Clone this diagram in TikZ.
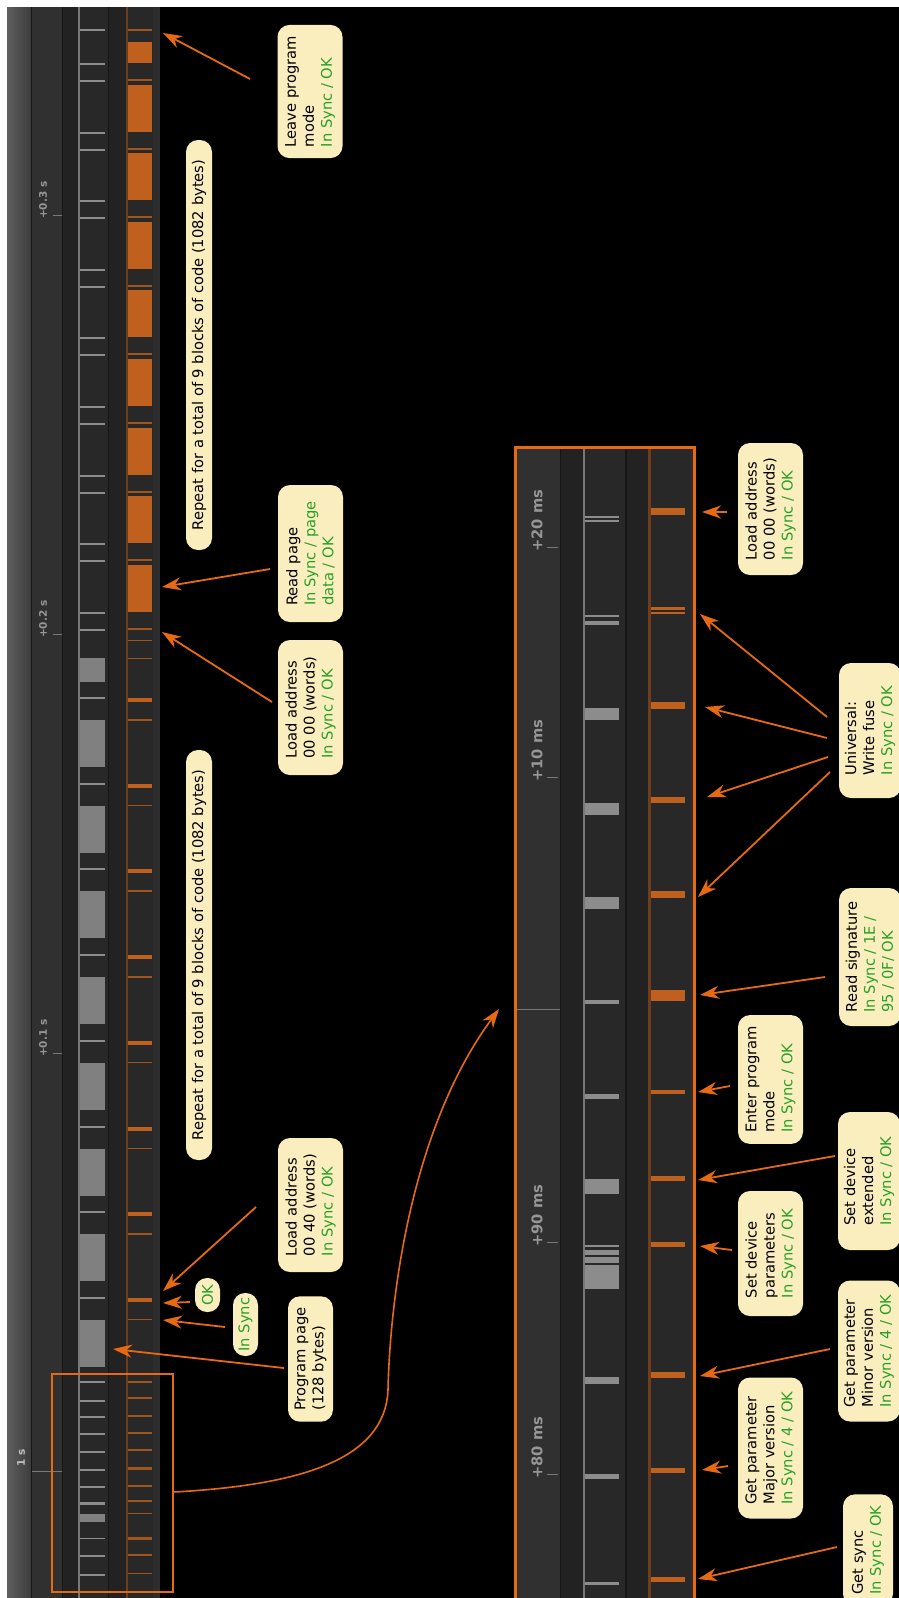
\documentclass[tikz,border=0pt]{standalone}
\usepackage{fontspec}
\setmainfont{DejaVu Sans}
\usetikzlibrary{arrows.meta,calc}
\definecolor{cream}{RGB}{251,238,190}
\definecolor{lgreen}{RGB}{40,160,40}
\definecolor{orb}{RGB}{230,105,20}
\definecolor{orblk}{RGB}{192,96,30}
\definecolor{orln}{RGB}{160,85,30}
\definecolor{orvl}{RGB}{110,62,28}
\definecolor{tickg}{RGB}{140,140,140}
\definecolor{blkg}{RGB}{128,128,128}
\definecolor{basel}{RGB}{120,120,120}
\definecolor{rulc}{RGB}{48,48,48}
\definecolor{bandc}{RGB}{34,34,34}
\definecolor{chanc}{RGB}{40,40,40}
\definecolor{sepc}{RGB}{22,22,22}
\definecolor{edgec}{RGB}{45,45,45}
\definecolor{rtxt}{RGB}{150,150,150}
\definecolor{rtxtl}{RGB}{190,190,190}
\newcommand\grn[1]{\textcolor{lgreen}{#1}}
\tikzset{
  lbl/.style={rotate=90, fill=cream, rounded corners=12pt, inner xsep=11pt, inner ysep=0pt,
    align=left, font=\fontsize{14.7}{18}\selectfont, text=black},
  arr/.style={draw=orb, line width=1.8pt, -{Stealth[length=19pt,width=13pt,inset=6pt]}},
  rlab/.style={rotate=90, anchor=west, inner sep=0pt, text=rtxt, font=\bfseries\fontsize{10.5}{12}\selectfont},
  rlabb/.style={rotate=90, anchor=west, inner sep=0pt, text=rtxt, font=\bfseries\fontsize{14.7}{16}\selectfont},
}
\begin{document}
\begin{tikzpicture}[x=1pt,y=-1pt]
\useasboundingbox (0,0) rectangle (899,1598);
\fill[black] (0,0) rectangle (899,1598);
\fill[white] (0,0) rectangle (899,7);
\fill[white] (0,0) rectangle (7,1598);

% ---------------- left overview panel ----------------
\shade[left color={rgb,255:red,95;green,95;blue,95}, right color={rgb,255:red,60;green,60;blue,60}] (7,7) rectangle (31,1598);
\fill[sepc] (31,7) rectangle (32,1598);
\fill[rulc] (32,7) rectangle (62,1598);
\fill[sepc] (62,7) rectangle (63,1598);
\fill[bandc] (63,7) rectangle (78,1598);
\fill[basel] (78,7) rectangle (80,1598);
\fill[chanc] (80,7) rectangle (108,1598);
\fill[sepc] (108,7) rectangle (109,1598);
\fill[bandc] (109,7) rectangle (125.5,1598);
\fill[orvl] (125.5,7) rectangle (128,1598);
\fill[chanc] (128,7) rectangle (153,1598);
\fill[edgec] (153,7) rectangle (160,1598);

% ruler
\foreach \y in {215,634,1053} \draw[basel, line width=1pt] (53,\y) -- (62,\y);
\draw[basel, line width=1pt] (32,1471) -- (62,1471);
\node[rlab] (t03) at (43,219) {+0.3 s};
\node[rlab] (t02) at (43,638) {+0.2 s};
\node[rlab] (t01) at (43,1057) {+0.1 s};
\node[rlab, text=rtxtl] (t1) at (21,1467) {1 s};

% read-back section
\fill[tickg] (80,29) rectangle (105,31);
\fill[orln] (128,29) rectangle (152,31);
\fill[orblk] (128,42) rectangle (152,63);
\foreach \k in {0,...,8} {
  \pgfmathsetmacro\a{64+68.6*\k}
  \fill[tickg] (80,\a-1) rectangle (105,\a+1);
  \fill[tickg] (80,\a+16) rectangle (105,\a+18);
  \fill[orln] (128,\a+15) rectangle (152,\a+17);
}
\foreach \k in {1,...,8} {
  \pgfmathsetmacro\a{64+68.6*\k}
  \fill[orblk] (128,\a-48) rectangle (152,\a-1);
}
% program section
\fill[blkg] (80,658) rectangle (105,682);
\fill[orln] (128,639.5) rectangle (152,641);
\fill[orln] (128,657.5) rectangle (152,659);
\foreach \k in {0,...,7} {
  \pgfmathsetmacro\t{698+85.7*\k}
  \pgfmathsetmacro\b{720+85.7*\k}
  \fill[tickg] (80,\t-1) rectangle (105,\t+1);
  \fill[orblk] (128,\t) rectangle (152,\t+4);
  \fill[blkg] (80,\b) rectangle (105,\b+47);
  \fill[orln] (128,\b-1) rectangle (152,\b+0.5);
}
% start-up section
\foreach \y/\h in {1382/1,1401/1,1417/1,1434/1,1452/1,1470/1,1487/1,1503/1.5,1538/0.5,1556/1,1575/1}
  \fill[tickg] (80,\y-\h) rectangle (105,\y+\h);
\fill[blkg] (80,1514) rectangle (105,1522);
\foreach \y/\h in {1382/1,1398/1,1416/1,1433/1,1450/1,1468/1.5,1486/1,1501/1,1513/0.5,1538/1.5,1555/1,1573/0.5}
  \fill[orln] (128,\y-\h) rectangle (152,\y+\h);

\node[draw=orb, line width=2.5pt, minimum width=121pt, minimum height=218pt, inner sep=0pt] (lbox) at (112.5,1483) {};

% ---------------- right zoomed panel ----------------
\fill[rulc] (516,449) rectangle (560,1598);
\fill[sepc] (560,449) rectangle (561,1598);
\fill[bandc] (561,449) rectangle (583,1598);
\fill[basel] (583,449) rectangle (585,1598);
\fill[chanc] (585,449) rectangle (625,1598);
\fill[sepc] (625,449) rectangle (627,1598);
\fill[bandc] (627,449) rectangle (648,1598);
\fill[orvl] (648,449) rectangle (650.5,1598);
\fill[chanc] (650.5,449) rectangle (690,1598);
\fill[edgec] (690,449) rectangle (694,1598);
\draw[orb, line width=3pt] (515.5,1610) -- (515.5,447.5) -- (694.5,447.5) -- (694.5,1610);

\foreach \y in {547,777,1242,1474} \draw[basel, line width=1pt] (547,\y) -- (558,\y);
\draw[basel, line width=1pt] (517,1009) -- (560,1009);
\node[rlabb] (r20) at (537,552) {+20 ms};
\node[rlabb] (r10) at (537,782) {+10 ms};
\node[rlabb] (r90) at (537,1247) {+90 ms};
\node[rlabb] (r80) at (537,1479) {+80 ms};

\foreach \a/\b in {515.5/518,520/522,615/617,621/625,708/720,803/815,897/909,1000/1004,1094/1099,1179/1194,1245/1247,1250/1255,1257/1263,1265/1289,1377/1384,1474/1479,1582/1585}
  \fill[tickg] (585,\a) rectangle (619,\b);
\foreach \a/\b in {508/515,607/610,612/614,702/709,797/803,891/898,990/1001,1090/1094,1176/1181,1242/1247,1372/1378,1468/1473,1577/1582}
  \fill[orblk] (650.5,\a) rectangle (685,\b);

% ---------------- labels ----------------
\node[lbl, minimum width=133pt, minimum height=65pt] (A) at (310,91.5) {Leave program\\mode\\\grn{In Sync / OK}};
\node[lbl, minimum width=137pt, minimum height=65pt] (B) at (310.5,553.5) {Read page\\\grn{In Sync / page}\\\grn{data / OK}};
\node[lbl, minimum width=135pt, minimum height=65pt] (C) at (310.5,707.5) {Load address\\00 00 (words)\\\grn{In Sync / OK}};
\node[lbl, minimum width=410pt, minimum height=26pt] (D) at (199,345) {Repeat for a total of 9 blocks of code (1082 bytes)};
\node[lbl, minimum width=410pt, minimum height=26pt] (E) at (199,955) {Repeat for a total of 9 blocks of code (1082 bytes)};
\node[lbl, minimum width=134pt, minimum height=65pt] (F) at (310.5,1205) {Load address\\00 40 (words)\\\grn{In Sync / OK}};
\node[lbl, minimum width=34pt, minimum height=25pt, inner xsep=4pt] (G) at (207.5,1295) {\grn{OK}};
\node[lbl, minimum width=63pt, minimum height=25pt, inner xsep=4pt] (H) at (245.5,1324.5) {\grn{In Sync}};
\node[lbl, minimum width=118pt, minimum height=45pt] (I) at (310.5,1359) {Program page\\(128 bytes)};

\node[lbl, minimum width=132pt, minimum height=65pt] (J) at (770.5,509) {Load address\\00 00 (words)\\\grn{In Sync / OK}};
\node[lbl, minimum width=135pt, minimum height=62pt] (K) at (870,730.5) {Universal:\\Write fuse\\\grn{In Sync / OK}};
\node[lbl, minimum width=138pt, minimum height=62pt] (L) at (870,957) {Read signature\\\grn{In Sync / 1E /}\\\grn{95 / 0F/ OK}};
\node[lbl, minimum width=127pt, minimum height=65pt] (M) at (770.5,1079.5) {Enter program\\mode\\\grn{In Sync / OK}};
\node[lbl, minimum width=138pt, minimum height=62pt] (N) at (869,1181) {Set device\\extended\\\grn{In Sync / OK}};
\node[lbl, minimum width=125pt, minimum height=65pt] (O) at (770.5,1253.5) {Set device\\parameters\\\grn{In Sync / OK}};
\node[lbl, minimum width=141pt, minimum height=62pt] (P) at (869,1351) {Get parameter\\Minor version\\\grn{In Sync / 4 / OK}};
\node[lbl, minimum width=141pt, minimum height=65pt] (Q) at (770.5,1448) {Get parameter\\Major version\\\grn{In Sync / 4 / OK}};
\node[lbl, minimum width=104pt, minimum height=50pt] (R) at (868,1550) {Get sync\\\grn{In Sync / OK}};

% ---------------- arrow targets ----------------
\coordinate (tA) at (163,33);
\coordinate (tB) at (162,587);
\coordinate (tC) at (162,632);
\coordinate (tF) at (163,1291);
\coordinate (tG) at (163,1303);
\coordinate (tH) at (163,1320);
\coordinate (tI) at (113,1349);
\coordinate (tJ) at (702,512);
\coordinate (tK1) at (700,614);
\coordinate (tK2) at (705,707);
\coordinate (tK3) at (707,797);
\coordinate (tK4) at (698,897);
\coordinate (tL) at (700,995);
\coordinate (tM) at (698,1092);
\coordinate (tN) at (698,1180);
\coordinate (tO) at (700,1246);
\coordinate (tP) at (700,1376);
\coordinate (tQ) at (702,1470);
\coordinate (tR) at (698,1579);
\coordinate (tZ) at (499,1009);
\coordinate (mZ) at (388,1390);

% ---------------- arrows ----------------
\draw[arr] ([shift={(-60,-12.5)}]A.center) -- (tA);
\draw[arr] ([shift={(-40.5,15.5)}]B.center) -- (tB);
\draw[arr] ([shift={(-38.5,-5.5)}]C.center) -- (tC);
\draw[arr] ([shift={(-54.5,2)}]F.center) -- (tF);
\draw[arr] ([shift={(-17.5,7)}]G.center) -- (tG);
\draw[arr] ([shift={(-20.5,2.5)}]H.center) -- (tH);
\draw[arr] ([shift={(-26.5,9)}]I.center) -- (tI);
\draw[arr] ([shift={(-43.5,3)}]J.center) -- (tJ);
\draw[arr] ([shift={(-43,-13.5)}]K.center) -- (tK1);
\draw[arr] ([shift={(-43,7.5)}]K.center) -- (tK2);
\draw[arr] ([shift={(-42,26.5)}]K.center) -- (tK3);
\draw[arr] ([shift={(-40,41.5)}]K.center) -- (tK4);
\draw[arr] ([shift={(-45,20)}]L.center) -- (tL);
\draw[arr] ([shift={(-40.5,6.5)}]M.center) -- (tM);
\draw[arr] ([shift={(-34,-25)}]N.center) -- (tN);
\draw[arr] ([shift={(-38.5,-3.5)}]O.center) -- (tO);
\draw[arr] ([shift={(-39,-2)}]P.center) -- (tP);
\draw[arr] ([shift={(-42.5,18)}]Q.center) -- (tQ);
\draw[arr] ([shift={(-31,-3)}]R.center) -- (tR);
\draw[arr, line width=1.6pt] ([shift={(0,9)}]lbox.east) .. controls (300,1485) and (385,1460) .. (mZ)
   .. controls (390,1300) and (410,1130) .. (tZ);
\end{tikzpicture}
\end{document}
